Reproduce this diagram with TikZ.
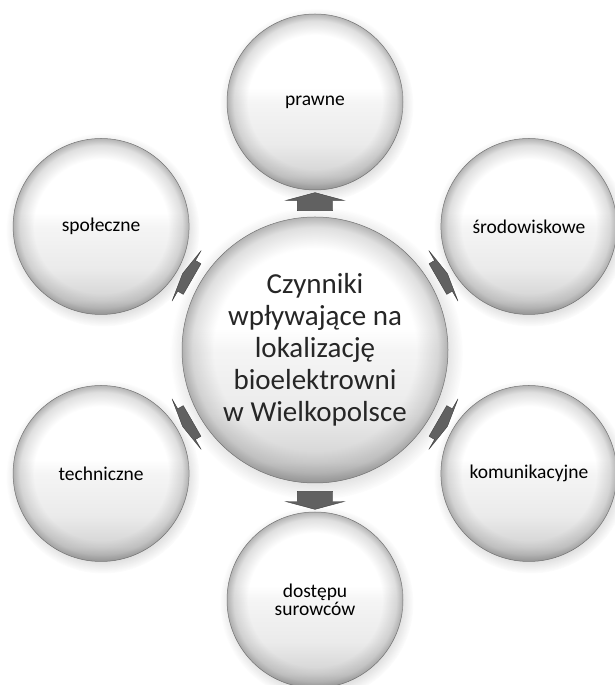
\documentclass[tikz,border=0pt]{standalone}
\usepackage{fontspec}
\setmainfont{Carlito}
\usetikzlibrary{shapes.arrows,shadows,fadings,calc}
\pgfdeclareverticalshading{orb}{100bp}{color(0bp)=(black!30); color(25bp)=(black!30); color(29bp)=(black!17); color(38bp)=(black!8); color(50bp)=(black!4); color(54bp)=(white); color(75bp)=(white); color(100bp)=(white)}
\pgfdeclareradialshading{rimshade}{\pgfpointorigin}{color(0bp)=(black); color(19bp)=(black); color(23bp)=(white!25!black); color(25bp)=(white!60!black); color(50bp)=(white!60!black)}
\pgfdeclarefading{rimfade}{\pgfuseshading{rimshade}}
\tikzset{
  ball/.style={circle, inner sep=0pt, shade, shading=orb, draw=black!55, line width=0.5pt,
    circular drop shadow={shadow xshift=1.5pt, shadow yshift=-3pt, opacity=0.2, fill=black!70},
    path picture={\fill[black!50, path fading=rimfade]
      (path picture bounding box.south west) rectangle (path picture bounding box.north east);},
    align=center, text=black},
  orb/.style={ball, minimum size=176pt, font=\fontsize{19.5}{19.5}\selectfont},
  core/.style={ball, minimum size=266pt, font=\fontsize{29}{32}\selectfont, text=black!85},
  barrow/.style={single arrow, draw=black!75, fill=black!62, line width=0.4pt,
    inner xsep=0pt, inner ysep=17.5pt, single arrow head extend=11.5pt,
    minimum width=58pt, minimum height=18pt, single arrow tip angle=150},
  barrowd/.style={barrow, minimum height=11pt, single arrow tip angle=162}
}
\begin{document}
\begin{tikzpicture}[x=1pt,y=1pt]
\path[use as bounding box] (0,0) rectangle (615,685);
\node[core] (c) at (315,335) {Czynniki\\wpływające na\\lokalizację\\bioelektrowni\\w Wielkopolsce};
\node[orb] (n1) at ($(c)+(90:248)$) {prawne};
\node[orb] (n2) at ($(c)+(30:247)$) {środowiskowe};
\node[orb] (n3) at ($(c)+(-30:247)$) {komunikacyjne};
\node[orb] (n4) at ($(c)+(-90:250)$) {dostępu\\[-1pt]surowców};
\node[orb] (n5) at ($(c)+(-150:247)$) {techniczne};
\node[orb] (n6) at ($(c)+(150:247)$) {społeczne};
\node[barrow, rotate=90] at ($(c)!146pt!(n1)$) {};
\node[barrowd, rotate=30] at ($(c)!146pt!(n2)$) {};
\node[barrowd, rotate=-30] at ($(c)!146pt!(n3)$) {};
\node[barrow, rotate=-90] at ($(c)!148pt!(n4)$) {};
\node[barrowd, rotate=-150] at ($(c)!146pt!(n5)$) {};
\node[barrowd, rotate=150] at ($(c)!146pt!(n6)$) {};
\end{tikzpicture}
\end{document}
